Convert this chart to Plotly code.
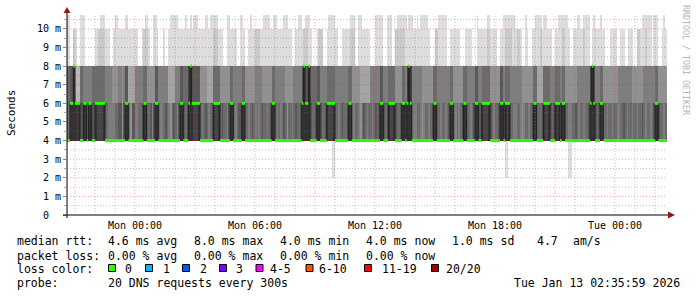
import plotly.graph_objects as go
from datetime import datetime, timedelta

# ---------------- data ----------------
T_START = datetime(2026, 1, 11, 20, 35, 59)
T_END = datetime(2026, 1, 13, 2, 35, 59)
COL0 = datetime(2026, 1, 11, 20, 35, 0)   # first 5-minute step
STEP_MIN = 5
N_COLS = 360
N_PINGS = 20

# ping levels (ms) seen in the graph
LOW_MS, L4_MS, L6_MS, L8_MS, L10_MS, TOP_MS = 2.0, 4.0, 6.0, 8.0, 10.0, 10.75

# median rtt (ms) as (value, number of 5-min steps)
MEDIAN_RUNS = [
    (4, 2), (6, 2), (8, 1), (6, 3), (4, 2), (6, 2), (4, 1), (6, 2), (4, 2), (6, 6),
    (4, 12), (6, 2), (4, 9), (6, 2), (4, 5), (6, 2), (4, 13), (6, 2), (4, 3), (6, 1),
    (8, 1), (6, 5), (4, 8), (6, 4), (4, 6), (6, 2), (4, 5), (6, 2), (4, 16), (6, 2),
    (4, 16), (6, 1), (8, 1), (6, 2), (8, 1), (4, 4), (6, 2), (4, 4), (6, 5), (4, 8),
    (6, 2), (4, 17), (6, 2), (4, 3), (6, 4), (4, 4), (6, 2), (4, 1), (6, 1), (8, 1),
    (6, 1), (4, 13), (6, 2), (4, 8), (6, 2), (4, 6), (6, 2), (4, 5), (6, 2), (4, 2),
    (6, 5), (4, 6), (6, 2), (4, 1), (6, 3), (4, 14), (6, 2), (4, 4), (6, 4), (4, 3),
    (6, 3), (4, 1), (6, 2), (4, 15), (6, 1), (8, 1), (6, 1), (4, 3), (6, 2), (4, 31),
    (6, 2), (4, 5),
]

# number of pings <= 4 ms in every step
PINGS_LE4 = [
    13, 13, 10, 10, 10, 10, 9, 10, 12, 12, 10, 10, 13, 10, 10, 12, 12, 10, 9, 9, 9, 9, 10, 13, 13, 14, 14, 14, 14, 13,
    13, 12, 12, 15, 12, 10, 10, 13, 15, 12, 12, 14, 14, 13, 13, 12, 10, 10, 13, 13, 12, 14, 12, 10, 10, 13, 14, 14, 13, 12,
    13, 14, 15, 13, 12, 13, 14, 12, 10, 10, 12, 13, 12, 10, 10, 10, 9, 9, 9, 10, 13, 14, 13, 12, 13, 14, 13, 12, 10, 9,
    9, 10, 13, 12, 13, 13, 14, 12, 10, 10, 13, 14, 13, 12, 12, 10, 10, 13, 13, 14, 13, 12, 13, 14, 13, 14, 13, 12, 13, 13,
    14, 13, 12, 10, 10, 13, 14, 13, 14, 13, 12, 13, 15, 13, 13, 14, 13, 12, 13, 13, 12, 10, 10, 10, 10, 10, 12, 13, 13, 12,
    10, 10, 12, 13, 13, 12, 10, 9, 9, 9, 10, 13, 13, 14, 13, 12, 13, 13, 12, 10, 10, 13, 14, 13, 13, 14, 15, 13, 12, 13,
    14, 13, 13, 14, 13, 12, 13, 12, 10, 10, 12, 13, 12, 10, 9, 9, 10, 12, 13, 13, 12, 10, 10, 12, 10, 10, 10, 13, 14, 14,
    13, 13, 14, 15, 14, 13, 13, 14, 13, 12, 10, 10, 13, 13, 14, 13, 13, 14, 13, 12, 10, 10, 13, 14, 13, 14, 13, 12, 10, 10,
    13, 13, 14, 13, 12, 10, 10, 12, 12, 10, 9, 9, 9, 10, 12, 13, 14, 13, 13, 12, 10, 10, 12, 10, 9, 10, 13, 13, 14, 14,
    13, 13, 14, 15, 14, 13, 13, 14, 13, 12, 10, 10, 13, 13, 13, 12, 10, 9, 9, 10, 12, 13, 12, 10, 9, 10, 12, 10, 10, 13,
    13, 14, 14, 13, 13, 12, 13, 14, 13, 13, 14, 13, 13, 12, 10, 10, 10, 12, 13, 12, 10, 10, 13, 13, 14, 13, 13, 14, 13, 13,
    14, 14, 13, 13, 12, 13, 14, 13, 13, 14, 13, 13, 14, 13, 13, 12, 13, 14, 13, 13, 14, 13, 12, 10, 10, 12, 13, 13, 14, 13,
]

# number of pings <= 6 ms as (value, number of steps)
PINGS_LE6_RUNS = [
    (12, 2), (12, 2), (10, 1), (17, 3), (13, 2), (14, 5), (13, 2), (13, 6), (14, 4), (15, 4),
    (14, 4), (12, 2), (16, 4), (14, 5), (13, 2), (15, 5), (12, 2), (14, 6), (16, 4), (14, 3),
    (12, 2), (13, 3), (11, 1), (10, 1), (12, 5), (15, 4), (16, 4), (13, 4), (15, 6), (13, 2),
    (14, 5), (13, 2), (15, 6), (14, 4), (15, 6), (13, 2), (14, 6), (15, 5), (14, 5), (12, 1),
    (10, 1), (12, 2), (10, 1), (13, 4), (12, 2), (14, 4), (13, 5), (14, 8), (13, 2), (15, 5),
    (16, 6), (14, 6), (12, 2), (14, 3), (13, 4), (15, 4), (13, 2), (14, 1), (11, 1), (10, 1),
    (11, 1), (14, 6), (15, 7), (13, 2), (14, 8), (13, 2), (15, 6), (13, 2), (14, 5), (12, 2),
    (14, 2), (13, 5), (15, 6), (12, 2), (14, 1), (13, 3), (14, 7), (15, 7), (13, 2), (16, 4),
    (13, 4), (14, 3), (13, 3), (14, 1), (13, 2), (15, 7), (14, 8), (11, 1), (10, 1), (11, 1),
    (14, 3), (13, 2), (15, 9), (14, 8), (15, 7), (14, 7), (13, 2), (15, 5),
]

# steps (first, last) where no ping was above 8 ms
NONE_ABOVE8 = [
    (2, 3), (6, 7), (11, 16), (26, 27), (43, 44), (50, 51), (55, 57), (59, 60), (94, 95),
    (102, 103), (107, 108), (135, 136), (147, 149), (154, 155), (163, 164), (173, 174),
    (182, 184), (190, 191), (195, 196), (218, 220), (228, 229), (236, 238), (243, 245),
    (258, 259), (273, 274), (277, 278), (291, 292), (302, 303), (314, 314), (323, 325),
    (330, 331), (335, 336), (340, 341), (351, 351), (355, 356),
]
# steps where two pings were above 8 ms (all other steps: one)
TWO_ABOVE8 = [
    (4, 4), (19, 22), (46, 48), (88, 90), (113, 115), (142, 144), (151, 153), (170, 172),
    (197, 202), (221, 222), (252, 253), (263, 266), (270, 271), (284, 284), (297, 298),
    (310, 310), (342, 343), (347, 347),
]
# steps where one ping reached the top of the graph
ONE_AT_TOP = [
    (0, 1), (8, 10), (20, 22), (29, 30), (35, 36), (47, 48), (52, 53), (62, 66), (71, 71),
    (74, 74), (76, 78), (83, 84), (86, 90), (96, 97), (104, 105), (110, 110), (118, 121),
    (124, 125), (130, 132), (139, 140), (143, 145), (157, 160), (170, 172), (175, 176),
    (185, 189), (192, 194), (198, 203), (205, 207), (210, 210), (212, 216), (223, 227),
    (246, 246), (252, 253), (262, 268), (275, 275), (281, 284), (286, 287), (295, 300),
    (306, 307), (310, 313), (316, 316), (320, 320), (345, 350), (352, 354), (358, 358),
]
# steps with one fast (2 ms) answer
ONE_LOW = [(159, 160), (263, 264), (301, 302)]

Y_TICKS = [0, 1, 2, 3, 4, 5, 6, 7, 8, 9, 10]
Y_TICK_TEXT = ["0\u00a0\u00a0"] + ["%d m" % v for v in Y_TICKS[1:]]

LEGEND_STATS = [
    ("median rtt:", ["4.6 ms avg", "8.0 ms max", "4.0 ms min", "4.0 ms now", "1.0 ms sd", "4.7", "am/s"]),
    ("packet loss:", ["0.00 % avg", "0.00 % max", "0.00 % min", "0.00 % now"]),
]
LOSS_LABELS = ["0", "1", "2", "3", "4-5", "6-10", "11-19", "20/20"]
LOSS_COLORS = ["#26ff00", "#00b8ff", "#0059ff", "#7e00ff", "#ff00ff", "#ff5500", "#ff0000", "#a10000"]
PROBE_TEXT = "20 DNS requests every 300s"
STAMP_TEXT = "Tue Jan 13 02:35:59 2026"

# ---------------- helpers ----------------
def expand_runs(runs):
    out = []
    for v, n in runs:
        out += [v] * n
    return (out + [out[-1]] * N_COLS)[:N_COLS]


def range_flags(ranges, value):
    arr = [0] * N_COLS
    for a, b in ranges:
        for k in range(a, b + 1):
            arr[k] = value
    return arr


median = expand_runs(MEDIAN_RUNS)
le4 = (PINGS_LE4 + [PINGS_LE4[-1]] * N_COLS)[:N_COLS]
le6 = expand_runs(PINGS_LE6_RUNS)
above8 = [1] * N_COLS
for a, b in NONE_ABOVE8:
    for k in range(a, b + 1):
        above8[k] = 0
for a, b in TWO_ABOVE8:
    for k in range(a, b + 1):
        above8[k] = 2
attop = range_flags(ONE_AT_TOP, 1)
low = range_flags(ONE_LOW, 1)

pings = []
for k in range(N_COLS):
    a8 = max(above8[k], attop[k])
    c4 = le4[k]
    c6 = min(max(le6[k], c4), N_PINGS - a8)
    c4 = min(c4, c6)
    n8 = N_PINGS - a8 - c6
    lst = ([LOW_MS] * low[k] + [L4_MS] * (c4 - low[k]) + [L6_MS] * (c6 - c4)
           + [L8_MS] * n8 + [L10_MS] * (a8 - attop[k]) + [TOP_MS] * attop[k])
    pings.append(sorted(lst))

col_start = [COL0 + timedelta(minutes=STEP_MIN * k) for k in range(N_COLS)]
col_mid = [t + timedelta(minutes=STEP_MIN / 2) for t in col_start]
col_end_last = col_start[-1] + timedelta(minutes=STEP_MIN)

fig = go.Figure()

# smoke (smokeping style: pairs of sorted pings, darker toward the middle)
half = N_PINGS // 2
for i in range(1, half + 1):
    g = int(190 / half * (half - i)) + 50
    lo = [p[i - 1] for p in pings]
    hi = [p[N_PINGS - i] for p in pings]
    fig.add_trace(go.Bar(
        x=col_mid, base=lo, y=[h - l for h, l in zip(hi, lo)],
        width=STEP_MIN * 60 * 1000,
        marker=dict(color="rgba(%d,%d,%d,0.999)" % (g, g, g), line=dict(width=0)),
        hoverinfo="skip", showlegend=False,
    ))

# grid drawn over the smoke
def grid_trace(xs_list, ys_list, color):
    xs, ys = [], []
    for xa, ya in zip(xs_list, ys_list):
        xs += xa + [None]
        ys += ya + [None]
    return go.Scatter(x=xs, y=ys, mode="lines", hoverinfo="skip", showlegend=False,
                      line=dict(color=color, width=1, dash="1px,2px"))

Y_MAX = 10.8
hours = []
t = T_START.replace(minute=0, second=0) + timedelta(hours=1)
while t < T_END:
    hours.append(t)
    t += timedelta(hours=1)
minor_v = [h for h in hours if h.hour % 3 != 0]
major_v = [h for h in hours if h.hour % 3 == 0]
minor_h = [v + 0.5 for v in range(0, 11)]
major_h = [v for v in range(1, 11)]

fig.add_trace(grid_trace([[h, h] for h in minor_v] + [[T_START, T_END] for _ in minor_h],
                         [[0, Y_MAX] for _ in minor_v] + [[v, v] for v in minor_h],
                         "rgba(120,120,120,0.45)"))
fig.add_trace(grid_trace([[h, h] for h in major_v] + [[T_START, T_END] for _ in major_h],
                         [[0, Y_MAX] for _ in major_v] + [[v, v] for v in major_h],
                         "rgba(255,0,0,0.35)"))

# median: thin dark step line + thick loss-coloured segments
fig.add_trace(go.Scatter(
    x=col_start + [col_end_last], y=median + [median[-1]], mode="lines",
    line=dict(color="#202020", width=1, shape="hv"), hoverinfo="skip", showlegend=False))
gx, gy = [], []
k = 0
while k < N_COLS:
    j = k
    while j + 1 < N_COLS and median[j + 1] == median[k]:
        j += 1
    end = col_start[j] + timedelta(minutes=STEP_MIN)
    gx += [col_start[k], end, None]
    gy += [median[k], median[k], None]
    k = j + 1
fig.add_trace(go.Scatter(x=gx, y=gy, mode="lines", line=dict(color=LOSS_COLORS[0], width=3),
                         hoverinfo="skip", showlegend=False))

# ---------------- layout ----------------
W, H = 697, 297
L, R, T, B = 67, 30, 14, 82
PW, PH = W - L - R, H - T - B
MONO = "DejaVu Sans Mono"


def px(xp):
    return (xp - L) / PW


def py(yp):
    return (H - B - yp) / PH


shapes = [
    dict(type="line", xref="paper", yref="paper", x0=px(63), x1=px(669), y0=0, y1=0,
         line=dict(color="#000000", width=1), layer="above"),
    dict(type="line", xref="paper", yref="paper", x0=0, x1=0, y0=py(218), y1=py(12),
         line=dict(color="#000000", width=1), layer="above"),
    dict(type="path", xref="paper", yref="paper", fillcolor="#8b1a1a", line=dict(width=0),
         path="M %f %f L %f %f L %f %f Z" % (px(668), py(211.5), px(675), 0, px(668), py(218.5)),
         layer="above"),
    dict(type="path", xref="paper", yref="paper", fillcolor="#8b1a1a", line=dict(width=0),
         path="M %f %f L %f %f L %f %f Z" % (px(63.5), py(13), 0, py(7), px(70.5), py(13)),
         layer="above"),
]

annotations = []


def text(xp, yp, s, size=11.5, anchor="left", color="#000000", angle=0):
    annotations.append(dict(
        xref="paper", yref="paper", x=px(xp), y=py(yp), text=s.replace(" ", "\u00a0"),
        showarrow=False, xanchor=anchor, yanchor="middle", borderpad=0, textangle=angle,
        font=dict(family=MONO, size=size, color=color)))


stat_x = [107, 193, 279, 365, 451, 536, 572]
row_y = [241, 255.5, 268.5, 282.5]
for r, (head, items) in enumerate(LEGEND_STATS):
    text(16, row_y[r], head)
    for xx, s in zip(stat_x, items):
        text(xx, row_y[r], s)

text(16, row_y[2], "loss color:")
box_x = [108.5, 145.5, 182.5, 219.5, 256, 306, 364.5, 431.5]
label_x = [124, 161.5, 198.5, 235, 268.5, 318, 380.5, 445]
for bx, lx, lab, colr in zip(box_x, label_x, LOSS_LABELS, LOSS_COLORS):
    shapes.append(dict(type="rect", xref="paper", yref="paper",
                       x0=px(bx), x1=px(bx + 7), y0=py(271.5), y1=py(264.5),
                       fillcolor=colr, line=dict(color="#000000", width=1), layer="above"))
    text(lx, row_y[2], lab)

text(16, row_y[3], "probe:")
text(107, row_y[3], PROBE_TEXT)
text(681, row_y[3], STAMP_TEXT, anchor="right")

text(11, 113, "Seconds", size=11, anchor="center", angle=-90)
text(686, 60, "RRDTOOL / TOBI OETIKER", size=8.3, anchor="center", color="#b4b4b4", angle=90)

fig.update_layout(
    width=W, height=H, margin=dict(l=L, r=R, t=T, b=B, pad=0),
    paper_bgcolor="#ffffff", plot_bgcolor="#ffffff",
    barmode="overlay", bargap=0, bargroupgap=0,
    showlegend=False, shapes=shapes, annotations=annotations,
    xaxis=dict(type="date", range=[T_START, T_END], showgrid=False, zeroline=False,
               showline=False, ticks="", tickformat="%a %H:%M",
               tick0="2026-01-12 00:00:00", dtick=6 * 3600 * 1000, ticklabelstandoff=3,
               tickfont=dict(family=MONO, size=10, color="#000000"), fixedrange=True),
    yaxis=dict(range=[0, Y_MAX], showgrid=False, zeroline=False, showline=False,
               tickvals=Y_TICKS, ticktext=Y_TICK_TEXT, ticks="outside", ticklen=3,
               tickcolor="#888888",
               minor=dict(ticks="outside", ticklen=2, tickcolor="#aaaaaa", dtick=0.5, tick0=0),
               tickfont=dict(family=MONO, size=10, color="#000000"), fixedrange=True),
)

fig.write_html("out.html")
